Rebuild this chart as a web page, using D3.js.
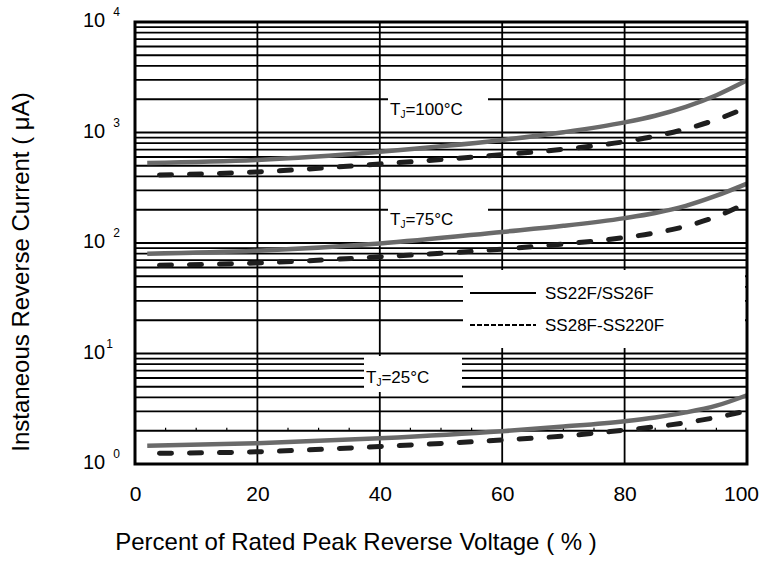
<!DOCTYPE html>
<html>
<head>
<meta charset="utf-8">
<script src="https://cdn.jsdelivr.net/npm/d3@7"></script>
<style>
  body { margin: 0; background: #fff; }
  svg { display: block; font-family: Arial, "Liberation Sans", sans-serif; }
</style>
</head>
<body>
<svg id="chart" width="761" height="561"></svg>
<script>
// ---------- data ----------
const xTicks = [0, 20, 40, 60, 80, 100];
const yDecades = [0, 1, 2, 3, 4];
const pctSolid = [2, 20, 40, 60, 70, 80, 85, 90, 95, 100];
const pctDashed = [4, 20, 40, 60, 70, 80, 85, 90, 95, 100];
const solid100 = [530, 565, 670, 855, 1005, 1236, 1419, 1706, 2173, 2965];
const dashed100 = [412, 440, 519, 630, 705, 826, 927, 1076, 1309, 1687];
const solid75 = [80, 85, 99, 126, 143, 168, 187, 217, 268, 345];
const dashed75 = [63, 66, 75, 88, 98, 112, 123.5, 141.8, 173.4, 231];
const solid25 = [1.46, 1.54, 1.71, 1.98, 2.18, 2.44, 2.64, 2.93, 3.37, 4.19];
const dashed25 = [1.25, 1.29, 1.44, 1.65, 1.79, 2.03, 2.17, 2.37, 2.64, 3.03];
const tempLabels = ["100°C", "75°C", "25°C"];
const legendNames = ["SS22F/SS26F", "SS28F-SS220F"];
const xTitle = "Percent of Rated Peak Reverse Voltage ( % )";
const yTitle = "Instaneous Reverse Current ( μA)";

// ---------- layout ----------
const L = 135, R = 747, T = 22, B = 464;
const svg = d3.select("#chart");
svg.append("rect").attr("width", 761).attr("height", 561).attr("fill", "#fff");

const x = d3.scaleLinear().domain([0, 100]).range([L, R]);
const y = d3.scaleLog().domain([1, 10000]).range([B, T]);

// grid: horizontal (log minor) lines
const hVals = [];
for (let d = 0; d < 4; d++) for (let m = 1; m <= 9; m++) hVals.push(m * Math.pow(10, d));
const grid = svg.append("g");
grid.selectAll("line.h").data(hVals).join("line")
  .attr("x1", L).attr("x2", R)
  .attr("y1", d => y(d)).attr("y2", d => y(d))
  .attr("stroke", "#000").attr("stroke-width", 1.8);
// vertical grid
grid.selectAll("line.v").data(xTicks.slice(1, -1)).join("line")
  .attr("x1", d => x(d)).attr("x2", d => x(d))
  .attr("y1", T).attr("y2", B)
  .attr("stroke", "#000").attr("stroke-width", 1.8);
// minor x ticks on the "2" line
grid.selectAll("line.mt").data(d3.range(5, 100, 5).filter(v => v % 20 !== 0)).join("line")
  .attr("x1", d => x(d)).attr("x2", d => x(d))
  .attr("y1", y(2) - 3).attr("y2", y(2))
  .attr("stroke", "#000").attr("stroke-width", 1.2);

// white label boxes (cover gridlines)
const boxes = [
  {x0: 388, x1: 488, y0: 98, y1: 130},
  {x0: 388, x1: 488, y0: 207, y1: 241},
  {x0: 364, x1: 462, y0: 356, y1: 392},
  {x0: 463, x1: 745, y0: 270, y1: 348}
];
svg.append("g").selectAll("rect").data(boxes).join("rect")
  .attr("x", d => d.x0).attr("y", d => d.y0)
  .attr("width", d => d.x1 - d.x0).attr("height", d => d.y1 - d.y0)
  .attr("fill", "#fff");

// curves
const line = d3.line().curve(d3.curveMonotoneX);
const series = [
  {p: pctSolid, v: solid100, dash: false},
  {p: pctDashed, v: dashed100, dash: true},
  {p: pctSolid, v: solid75, dash: false},
  {p: pctDashed, v: dashed75, dash: true},
  {p: pctSolid, v: solid25, dash: false},
  {p: pctDashed, v: dashed25, dash: true}
];
svg.append("g").selectAll("path").data(series).join("path")
  .attr("d", s => line(s.p.map((p, i) => [x(p), y(s.v[i])])))
  .attr("fill", "none")
  .attr("stroke", s => s.dash ? "#1e1e1e" : "#6a6a6a")
  .attr("stroke-width", s => s.dash ? 5 : 4.5)
  .attr("stroke-linecap", s => s.dash ? "round" : "butt")
  .attr("stroke-dasharray", s => s.dash ? "12,18" : null);

// frame
svg.append("rect").attr("x", L).attr("y", T).attr("width", R - L).attr("height", B - T)
  .attr("fill", "none").attr("stroke", "#000").attr("stroke-width", 3);

// x axis labels
const xAxis = d3.axisBottom(x).tickValues(xTicks).tickSize(0).tickPadding(0).tickFormat(d3.format("d"));
const xg = svg.append("g").attr("transform", `translate(0,${B + 22})`).call(xAxis);
xg.select(".domain").remove();
xg.selectAll("text").attr("font-size", 21).attr("fill", "#000")
  .attr("font-family", "Arial, 'Liberation Sans', sans-serif").attr("dy", "0.71em")
  .attr("dx", d => d === 100 ? -6 : 0);

// y axis labels: 10 + superscript exponent
const yl = svg.append("g").selectAll("text").data(yDecades).join("text")
  .attr("x", 83).attr("y", d => y(Math.pow(10, d)) + 5)
  .attr("font-size", 20).attr("fill", "#000");
yl.append("tspan").text("10");
yl.append("tspan").text(d => String(d))
  .attr("font-size", 12)
  .attr("dx", d => d === 1 ? 1 : 8)
  .attr("dy", -11);

// titles
svg.append("text").attr("x", 356).attr("y", 550).attr("text-anchor", "middle")
  .attr("font-size", 24).attr("fill", "#000").text(xTitle);
svg.append("text").attr("transform", "translate(29,272) rotate(-90)")
  .attr("text-anchor", "middle").attr("font-size", 24).attr("fill", "#000").text(yTitle);

// temperature labels
const tlPos = [{x: 390, y: 115}, {x: 390, y: 225}, {x: 366, y: 383}];
const tl = svg.append("g").selectAll("text").data(tempLabels).join("text")
  .attr("x", (d, i) => tlPos[i].x).attr("y", (d, i) => tlPos[i].y)
  .attr("font-size", 17).attr("fill", "#000");
tl.append("tspan").text("T");
tl.append("tspan").text("J").attr("font-size", 10).attr("dy", 3);
tl.append("tspan").text(d => "=" + d).attr("dy", -3);

// legend
const lg = svg.append("g").selectAll("g").data(legendNames).join("g")
  .attr("transform", (d, i) => `translate(470,${293 + i * 32})`);
lg.append("line").attr("x1", 0).attr("x2", 66).attr("y1", 0).attr("y2", 0)
  .attr("stroke", "#000").attr("stroke-width", 2)
  .attr("stroke-dasharray", (d, i) => i === 1 ? "5,2" : null);
lg.append("text").attr("x", 75).attr("y", 6).attr("font-size", 17).attr("fill", "#000").text(d => d);
</script>
</body>
</html>
